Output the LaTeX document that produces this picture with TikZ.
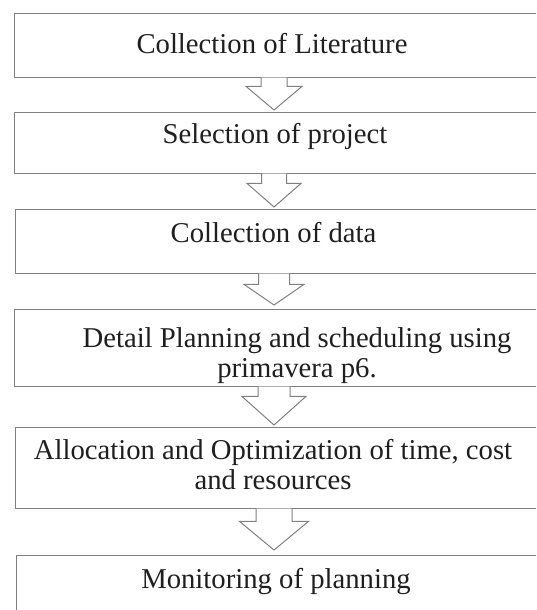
\documentclass[tikz,border=0pt]{standalone}
\usepackage{fontspec}
\setmainfont{Liberation Serif}
\usepackage{tikz}
\usetikzlibrary{positioning, calc}

\definecolor{boxgrey}{rgb}{0.5, 0.5, 0.5}
\definecolor{inkgrey}{rgb}{0.12, 0.12, 0.12}

\tikzset{
	stagebox/.style={draw=boxgrey, line width=1.4pt, rectangle, anchor=north west, inner sep=0pt, minimum width=580pt},
	stagetext/.style={font=\fontsize{28.7}{30}\selectfont, align=center, text=inkgrey, anchor=base, inner sep=0pt},
	blockarr/.style={draw=boxgrey, line width=1pt, fill=white, line join=miter}
}

% #1 from, #2 to, #3 shaft half width, #4 head half width, #5 shaft length, #6 gap at tip
\newcommand{\flowarrow}[6]{%
	\draw[blockarr] let \p1=(#1.south), \p2=(#2.north) in
		({274pt-#3pt},{\y1+0.9pt}) -- ({274pt-#3pt},{\y1-#5pt}) -- ({274pt-#4pt},{\y1-#5pt})
		-- (274pt,{\y2+#6pt})
		-- ({274pt+#4pt},{\y1-#5pt}) -- ({274pt+#3pt},{\y1-#5pt}) -- ({274pt+#3pt},{\y1+0.9pt});
}

\begin{document}
\begin{tikzpicture}[x=1pt, y=-1pt]
	\clip (0,0) rectangle (536,610);
	\fill[white] (0,0) rectangle (536,610);
	
	\node[stagebox, minimum height=64pt] (b1) at (14,13) {};
	\node[stagebox, minimum height=61pt] (b2) at (14,112) {};
	\node[stagebox, minimum height=64pt] (b3) at (15,209) {};
	\node[stagebox, minimum height=77pt, minimum width=628pt] (b4) at (14,309) {};
	\node[stagebox, minimum height=81pt] (b5) at (15,427) {};
	\node[stagebox, minimum height=90pt] (b6) at (16,555) {};
	
	% base of a two-line node is its last line
	\node[stagetext] (t1) at (272,53) {Collection of Literature};
	\node[stagetext] (t2) at (275,143) {Selection of project};
	\node[stagetext] (t3) at (273.5,242) {Collection of data};
	\node[stagetext] (t4) at (297,377) {Detail Planning and scheduling using\\primavera p6.};
	\node[stagetext] (t5) at (273,489) {Allocation and Optimization of time, cost\\and resources};
	\node[stagetext] (t6) at (276,588) {Monitoring of planning};
	
	\flowarrow{b1}{b2}{13}{28}{8}{2}
	\flowarrow{b2}{b3}{12.5}{27}{9}{2}
	\flowarrow{b3}{b4}{15.5}{30}{10}{4}
	\flowarrow{b4}{b5}{16}{32}{9}{2}
	\flowarrow{b5}{b6}{18}{34.5}{12}{5}
\end{tikzpicture}
\end{document}
